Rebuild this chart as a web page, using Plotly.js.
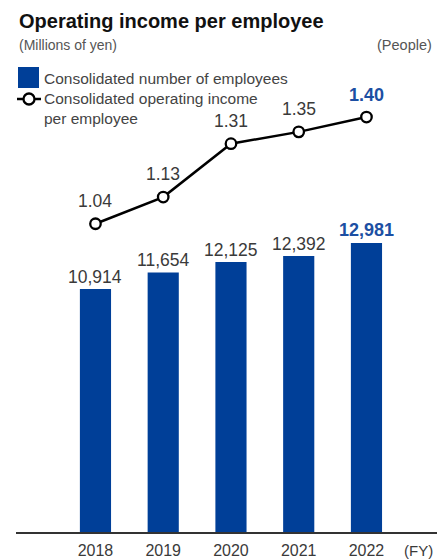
<!DOCTYPE html>
<html>
<head>
<meta charset="utf-8">
<script src="https://cdn.plot.ly/plotly-3.0.1.min.js"></script>
<style>html,body{margin:0;padding:0;background:#fff;}#chart{width:437px;height:559px;}</style>
</head>
<body>
<div id="chart"></div>
<script>
// ---- data ----
const years = ['2018', '2019', '2020', '2021', '2022'];
const employees = [10914, 11654, 12125, 12392, 12981];
const incomePerEmployee = [1.04, 1.13, 1.31, 1.35, 1.40];
const titleText = 'Operating income per employee';
const leftUnit = '(Millions of yen)';
const rightUnit = '(People)';
const barLegend = 'Consolidated number of employees';
const lineLegend = 'Consolidated operating income<br>per employee';
const fyLabel = '(FY)';

// ---- layout geometry ----
const W = 437, H = 559;
const M = {l: 16, r: 0, t: 100, b: 27};
const plotW = W - M.l - M.r, plotH = H - M.t - M.b;
const px = x => (x - M.l) / plotW;
const py = y => (H - M.b - y) / plotH;

const BLUE = '#003f98';
const BLUE_TXT = '#1c4fa3';
const GRAY = '#3a3a3a';
const FONT = 'Liberation Sans, Arial, sans-serif';
const last = years.length - 1;

const traces = [
  {
    type: 'bar', x: years, y: employees, width: 0.46,
    marker: {color: BLUE}, yaxis: 'y', hoverinfo: 'skip'
  },
  {
    type: 'scatter', mode: 'lines+markers', x: years, y: incomePerEmployee, yaxis: 'y2',
    line: {color: '#000', width: 2.5},
    marker: {symbol: 'circle', size: 10.5, color: '#fff', line: {color: '#000', width: 2.3}},
    hoverinfo: 'skip'
  }
];

const annotations = [];
employees.forEach((v, i) => {
  const isLast = i === last;
  annotations.push({
    x: i, y: v, xref: 'x', yref: 'y', yanchor: 'bottom', showarrow: false,
    yshift: isLast ? 1 : 0,
    text: isLast ? '<b>' + v.toLocaleString('en-US') + '</b>' : v.toLocaleString('en-US'),
    font: {family: FONT, size: isLast ? 18 : 17.5, color: isLast ? BLUE_TXT : GRAY}
  });
});
incomePerEmployee.forEach((v, i) => {
  const isLast = i === last;
  annotations.push({
    x: i, y: v, xref: 'x', yref: 'y2', yanchor: 'bottom', showarrow: false,
    yshift: isLast ? 10 : 11,
    text: isLast ? '<b>' + v.toFixed(2) + '</b>' : v.toFixed(2),
    font: {family: FONT, size: isLast ? 18 : 17.5, color: isLast ? BLUE_TXT : GRAY}
  });
});
annotations.push(
  {xref: 'paper', yref: 'paper', x: px(17), y: py(21), xanchor: 'left', yanchor: 'middle', showarrow: false,
   text: '<b>' + titleText + '</b>', font: {family: FONT, size: 20, color: '#111'}},
  {xref: 'paper', yref: 'paper', x: px(17), y: py(45), xanchor: 'left', yanchor: 'middle', showarrow: false,
   text: leftUnit, font: {family: FONT, size: 14, color: '#555'}},
  {xref: 'paper', yref: 'paper', x: px(434), y: py(45), xanchor: 'right', yanchor: 'middle', showarrow: false,
   text: rightUnit, font: {family: FONT, size: 14.5, color: '#555'}},
  {xref: 'paper', yref: 'paper', x: px(42), y: py(78), xanchor: 'left', yanchor: 'middle', showarrow: false,
   text: barLegend, font: {family: FONT, size: 15.5, color: '#444'}},
  {xref: 'paper', yref: 'paper', x: px(42), y: py(108.5), xanchor: 'left', yanchor: 'middle', align: 'left', showarrow: false,
   text: lineLegend, font: {family: FONT, size: 15.5, color: '#444'}},
  {xref: 'paper', yref: 'paper', x: px(418), y: py(550), xanchor: 'center', yanchor: 'middle', showarrow: false,
   text: fyLabel, font: {family: FONT, size: 15, color: GRAY}}
);

const shapes = [
  {type: 'rect', xref: 'paper', yref: 'paper', x0: px(18), x1: px(39), y0: py(88), y1: py(67),
   fillcolor: BLUE, line: {width: 0}},
  {type: 'line', xref: 'paper', yref: 'paper', x0: px(17), x1: px(41), y0: py(99), y1: py(99),
   line: {color: '#000', width: 2.5}},
  {type: 'circle', xref: 'paper', yref: 'paper', x0: px(23.5), x1: px(34.5), y0: py(104.5), y1: py(93.5),
   fillcolor: '#fff', line: {color: '#000', width: 2.3}}
];

const layout = {
  width: W, height: H,
  margin: M,
  paper_bgcolor: '#fff', plot_bgcolor: '#fff',
  showlegend: false,
  font: {family: FONT, color: GRAY},
  xaxis: {
    type: 'category', range: [-1.173, 5.041], fixedrange: true,
    showline: true, linecolor: '#333', linewidth: 1.5, showgrid: false, zeroline: false,
    ticks: '', ticklabelstandoff: 3, tickfont: {family: FONT, size: 16, color: GRAY}
  },
  yaxis: {range: [0, 19397], visible: false, fixedrange: true},
  yaxis2: {range: [0, 1.4575], overlaying: 'y', side: 'right', visible: false, fixedrange: true},
  annotations: annotations,
  shapes: shapes
};

Plotly.newPlot('chart', traces, layout, {staticPlot: true, displayModeBar: false});
</script>
</body>
</html>
